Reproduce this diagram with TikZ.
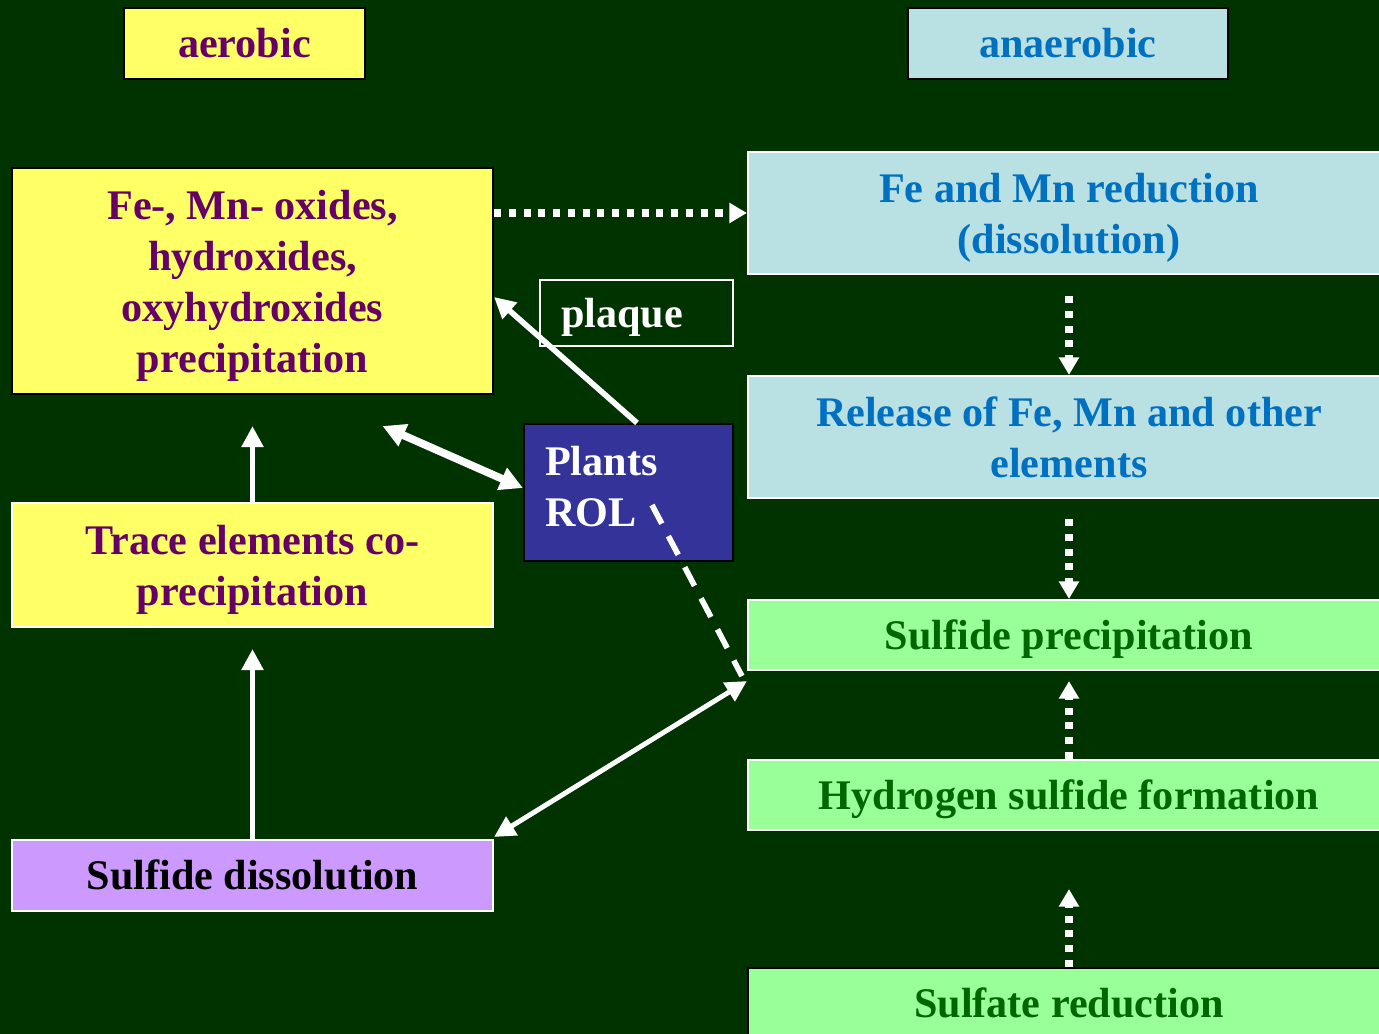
\documentclass[tikz,border=0pt]{standalone}
\usepackage{fontspec}
\setmainfont{Liberation Serif}
\usetikzlibrary{arrows.meta}
\definecolor{bggreen}{HTML}{003300}
\definecolor{lemon}{HTML}{FFFF66}
\definecolor{plum}{HTML}{660066}
\definecolor{iceblue}{HTML}{B9E0E3}
\definecolor{seablue}{HTML}{0070C0}
\definecolor{mint}{HTML}{99FF99}
\definecolor{leaf}{HTML}{006600}
\definecolor{lilac}{HTML}{CC99FF}
\definecolor{indigo}{HTML}{333399}
\newcommand{\topstrut}{\rule{0pt}{11.2pt}}
\tikzset{
  box/.style={rectangle, line width=0.6pt, inner sep=2pt, align=center,
    font=\fontsize{12}{14.5}\selectfont\bfseries,
    execute at begin node={\rule{0pt}{10.8pt}},
    execute at end node={\rule[-2.6pt]{0pt}{0pt}}},
  ybox/.style={box, fill=lemon, text=plum},
  bbox/.style={box, fill=iceblue, draw=white, text=seablue},
  gbox/.style={box, fill=mint, draw=white, text=leaf},
  wide/.style={minimum width=6.42cm},
  solidarrow/.style={draw=white, line width=1.6pt, -{Triangle[length=6pt,width=6pt]}},
  dblarrow/.style={draw=white, line width=2.2pt, {Triangle[length=6.5pt,width=6.5pt]}-{Triangle[length=6.5pt,width=6.5pt]}},
  dotarrow/.style={draw=white, line width=2pt, dash pattern=on 2pt off 2.2pt,
    -{Triangle[length=5pt,width=5.5pt]}}
}
\begin{document}
\begin{tikzpicture}
\fill[bggreen] (0,0) rectangle (13.79,-10.34);
\useasboundingbox (0,0) rectangle (13.79,-10.34);
% aerobic side
\node[ybox, draw=black, minimum width=2.41cm, minimum height=0.71cm] (aerobic) at (2.445,-0.435) {aerobic};
\node[ybox, draw=black, minimum width=4.81cm, minimum height=2.26cm] (oxides) at (2.525,-2.81)
  {\topstrut Fe-, Mn- oxides,\\hydroxides,\\oxyhydroxides\\precipitation};
\node[ybox, draw=white, minimum width=4.81cm, minimum height=1.24cm] (trace) at (2.525,-5.65)
  {\topstrut Trace elements co-\\precipitation};
\node[box, fill=lilac, draw=white, text=black, minimum width=4.81cm, minimum height=0.71cm] (sdiss) at (2.525,-8.755)
  {Sulfide dissolution};
% plants
\node[box, fill=indigo, draw=black, text=white, minimum width=2.09cm, minimum height=1.37cm,
  inner xsep=0.21cm, text width=1.67cm, align=left,
  execute at end node={\rule[-6pt]{0pt}{0pt}}] (plants) at (6.285,-4.925) {Plants\\ROL};
\node[box, draw=white, text=white, minimum width=1.93cm, minimum height=0.66cm,
  inner xsep=0.21cm, text width=1.51cm, align=left] (plaque) at (6.365,-3.13) {plaque};
% anaerobic side
\node[bbox, draw=black, minimum width=3.2cm, minimum height=0.71cm] (anaerobic) at (10.68,-0.435) {anaerobic};
\node[bbox, wide, minimum height=1.22cm] (reduction) at (10.69,-2.13) {\topstrut Fe and Mn reduction\\(dissolution)};
\node[bbox, wide, minimum height=1.22cm] (release) at (10.69,-4.37) {\topstrut Release of Fe, Mn and other\\elements};
\node[gbox, wide, minimum height=0.7cm] (sprec) at (10.69,-6.35) {Sulfide precipitation};
\node[gbox, wide, minimum height=0.7cm] (hsulf) at (10.69,-7.95) {Hydrogen sulfide formation};
\node[gbox, draw=black, wide, minimum height=0.71cm] (sred) at (10.69,-10.035) {Sulfate reduction};
% arrows
\draw[dotarrow] (oxides.east |- reduction.west) -- (reduction.west);
\draw[dotarrow, shorten <=0.21cm] (reduction.south) -- (release.north);
\draw[dotarrow, shorten <=0.2cm] (release.south) -- (sprec.north);
\draw[dotarrow, shorten >=0.1cm] (hsulf.north) -- (sprec.south);
\draw[dotarrow, shorten >=0.58cm] (sred.north) -- (hsulf.south);
\draw[solidarrow, shorten >=0.21cm] (sdiss.north) -- (trace.south);
\draw[solidarrow, shorten >=0.31cm] (trace.north) -- (oxides.south);
\draw[solidarrow] ([xshift=0.085cm]plants.north) -- ([yshift=-0.16cm]oxides.east);
\coordinate (leftend) at ([xshift=1.3cm,yshift=-0.31cm]oxides.south);
\draw[dblarrow] (leftend) -- ([yshift=0.045cm]plants.west);
\coordinate (rol) at ([yshift=-0.1cm]sprec.south west);
\draw[white, line width=1.6pt, dash pattern=on 6pt off 4pt] ([xshift=0.235cm,yshift=-0.125cm]plants.center) -- ([xshift=-0.05cm,yshift=0.05cm]rol);
\draw[solidarrow, line width=1.4pt, {Triangle[length=6pt,width=6pt]}-{Triangle[length=6pt,width=6pt]}] (rol) -- ([yshift=0.02cm]sdiss.north east);
\end{tikzpicture}
\end{document}
